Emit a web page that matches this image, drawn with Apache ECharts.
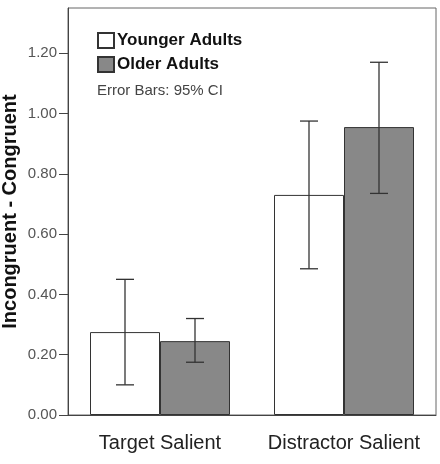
<!DOCTYPE html>
<html>
<head>
<meta charset="utf-8">
<script src="https://cdn.jsdelivr.net/npm/echarts@6/dist/echarts.min.js"></script>
<style>
  html, body { margin: 0; padding: 0; background: #fff; }
  #chart { width: 440px; height: 464px; }
</style>
</head>
<body>
<div id="chart"></div>
<script>
// data
var categories = ['Target Salient', 'Distractor Salient'];
var youngerMean = [0.275, 0.73];
var youngerLow = [0.10, 0.485];
var youngerHigh = [0.45, 0.975];
var olderMean = [0.245, 0.955];
var olderLow = [0.175, 0.735];
var olderHigh = [0.32, 1.17];
var yTicks = [0, 0.2, 0.4, 0.6, 0.8, 1.0, 1.2];

var barW = 70;

// error bars drawn at the centre of each bar of a group
function errorSeries(low, high, side) {
    var rows = low.map(function (v, i) { return [i, v, high[i]]; });
    return {
        type: 'custom',
        z: 5,
        data: rows,
        renderItem: function (params, api) {
            var pLo = api.coord([api.value(0), api.value(1)]);
            var pHi = api.coord([api.value(0), api.value(2)]);
            var x = pLo[0] + side * barW / 2;
            var cap = 9;
            var st = { stroke: '#333', lineWidth: 1.3 };
            return {
                type: 'group',
                children: [
                    { type: 'line', shape: { x1: x, y1: pLo[1], x2: x, y2: pHi[1] }, style: st },
                    { type: 'line', shape: { x1: x - cap, y1: pLo[1], x2: x + cap, y2: pLo[1] }, style: st },
                    { type: 'line', shape: { x1: x - cap, y1: pHi[1], x2: x + cap, y2: pHi[1] }, style: st }
                ]
            };
        }
    };
}

var myChart = echarts.init(document.getElementById('chart'));
var option = {
    animation: false,
    grid: {
        left: 68, right: 4, top: 8, bottom: 49,
        outerBoundsMode: 'none',
        containLabel: false,
        show: true, borderColor: '#666', borderWidth: 1
    },
    legend: {
        orient: 'vertical',
        left: 92, top: 27,
        itemWidth: 16, itemHeight: 15, itemGap: 7,
        icon: 'rect',
        data: ['Younger Adults', 'Older Adults'],
        textStyle: { fontFamily: 'Liberation Sans', fontWeight: 'bold', fontSize: 17, color: '#111', padding: [0, 0, 0, -2] }
    },
    graphic: [{
        type: 'text', left: 97, top: 83,
        style: { text: 'Error Bars: 95% CI', font: '15px "Liberation Sans"', fill: '#444' }
    }],
    xAxis: {
        type: 'category',
        data: categories,
        axisLine: { lineStyle: { color: '#444', width: 1 } },
        axisTick: { alignWithLabel: true, length: 13, lineStyle: { color: '#444' } },
        axisLabel: { interval: 0, fontFamily: 'Liberation Sans', fontSize: 20, color: '#222', margin: 18 }
    },
    yAxis: {
        type: 'value',
        min: 0, max: 1.35,
        name: 'Incongruent - Congruent',
        nameLocation: 'middle',
        nameGap: 48,
        nameMoveOverlap: false,
        nameTextStyle: { fontFamily: 'Liberation Sans', fontWeight: 'bold', fontSize: 20, color: '#111' },
        axisLine: { show: true, lineStyle: { color: '#444', width: 1 } },
        axisTick: { show: true, length: 9, customValues: yTicks, lineStyle: { color: '#444' } },
        axisLabel: {
            customValues: yTicks,
            fontFamily: 'Liberation Sans', fontSize: 15, color: '#555', margin: 11,
            formatter: function (v) { return v.toFixed(2); }
        },
        splitLine: { show: false }
    },
    series: [
        {
            name: 'Younger Adults', type: 'bar', barWidth: barW, barGap: '0%',
            data: youngerMean,
            itemStyle: { color: '#fff', borderColor: '#333', borderWidth: 1 }
        },
        {
            name: 'Older Adults', type: 'bar', barWidth: barW, barGap: '0%',
            data: olderMean,
            itemStyle: { color: '#888', borderColor: '#333', borderWidth: 1 }
        },
        errorSeries(youngerLow, youngerHigh, -1),
        errorSeries(olderLow, olderHigh, 1)
    ]
};
myChart.setOption(option);
</script>
</body>
</html>
